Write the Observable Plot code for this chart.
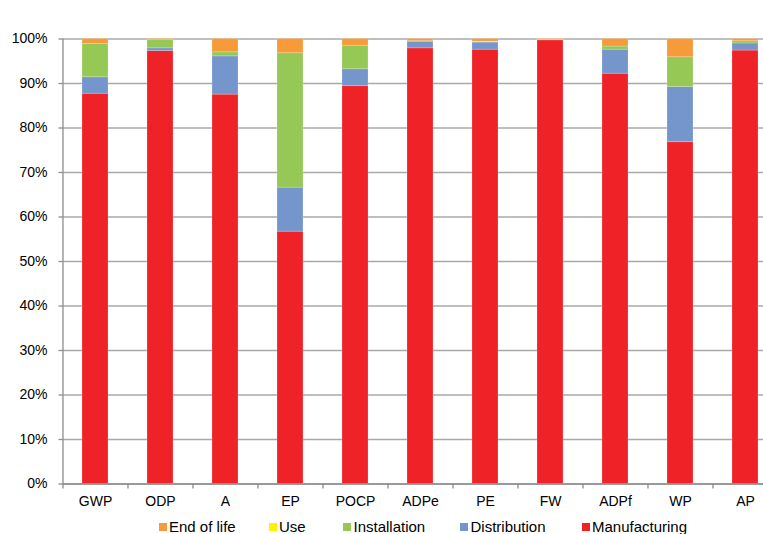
<!DOCTYPE html>
<html>
<head>
<meta charset="utf-8">
<script src="https://cdn.jsdelivr.net/npm/d3@7"></script>
<script src="https://cdn.jsdelivr.net/npm/@observablehq/plot@0.6"></script>
<style>
  html, body { margin: 0; padding: 0; background: #fff; overflow: hidden; }
  body { font-family: "Liberation Sans", Arial, sans-serif; width: 763px; height: 534px; position: relative; }
  #title { position: absolute; left: 0; top: 8px; width: 796px; text-align: center; font-weight: bold; font-size: 17.8px; color: #000; white-space: nowrap; }
  #chart { position: absolute; left: 0; top: 0; }
  #legend { position: absolute; left: 0; top: 518px; width: 763px; height: 20px; font-size: 15px; color: #000; }
  .item { position: absolute; top: 0; white-space: nowrap; }
  .sw { display: inline-block; width: 8px; height: 8px; margin-right: 2.5px; vertical-align: 1px; }
</style>
</head>
<body>
<div id="title">% Environmental Impact per Life Cycle Stage of Reference Product</div>
<div id="chart"></div>
<div id="legend"></div>
<script>
// Categories (impact indicators)
const categories = ["GWP", "ODP", "A", "EP", "POCP", "ADPe", "PE", "FW", "ADPf", "WP", "AP"];
// Life cycle stages, bottom to top of each stack
const stages = ["Manufacturing", "Distribution", "Installation", "Use", "End of life"];
const stageColors = ["#EE2227", "#7496CC", "#96C855", "#FFF100", "#F79B3A"];
// Legend order (left to right)
const legendOrder = ["End of life", "Use", "Installation", "Distribution", "Manufacturing"];

// Percentages per stage, one value per category
const manufacturing = [87.7, 97.3, 87.5, 56.7, 89.4, 97.9, 97.6, 99.7, 92.2, 76.8, 97.4];
const distribution  = [ 3.7,  0.6,  8.6,  9.9,  3.8,  1.5,  1.6, 0.05,  5.4, 12.4,  1.6];
const installation  = [ 7.5,  1.9,  0.9, 30.2,  5.3,  0.1,  0.1, 0.15,  0.7,  6.7,  0.5];
const use           = [ 0.0,  0.0,  0.0,  0.0,  0.0,  0.0,  0.1,  0.0,  0.0,  0.0,  0.0];
const endOfLife     = [ 1.1,  0.2,  3.0,  3.2,  1.5,  0.5,  0.6,  0.1,  1.7,  4.1,  0.5];

const yTicks = [0, 10, 20, 30, 40, 50, 60, 70, 80, 90, 100];

const series = {
  "Manufacturing": manufacturing,
  "Distribution": distribution,
  "Installation": installation,
  "Use": use,
  "End of life": endOfLife
};
const data = [];
stages.forEach(s => categories.forEach((c, i) => data.push({cat: c, stage: s, value: series[s][i]})));

const W = 763, H = 534;
const mL = 62.5, mR = -15, mT = 38.5, mB = 50.5;
const step = (W - mL - mR) / categories.length;
const half = step / 2;
const font = '"Liberation Sans", Arial, sans-serif';
const gray = "#8C8C8C";

const chart = Plot.plot({
  width: W,
  height: H,
  marginLeft: mL,
  marginRight: mR,
  marginTop: mT,
  marginBottom: mB,
  style: {fontFamily: font, fontSize: "14px", color: "#000", background: "#fff"},
  x: {type: "band", domain: categories, paddingInner: 0.6, paddingOuter: 0.3, label: null},
  y: {domain: [0, 100], label: null},
  color: {domain: stages, range: stageColors},
  marks: [
    Plot.gridY(yTicks, {stroke: "#A8A8A8", strokeOpacity: 1, strokeWidth: 1.3}),
    Plot.barY(data, Plot.stackY({x: "cat", y: "value", fill: "stage", order: stages,
      stroke: "#fff", strokeOpacity: 0.25, strokeWidth: 0.8})),
    // vertical y-axis line at left edge of the first band
    Plot.ruleX([categories[0]], {x: d => d, dx: -half, y1: 0, y2: 100, stroke: gray, strokeWidth: 1.3}),
    // x-axis baseline
    Plot.ruleY([0], {stroke: gray, strokeWidth: 1.3}),
    // y ticks and labels
    Plot.axisY({ticks: yTicks, tickSize: 4, tickPadding: 11.5, tickFormat: d => d + "%", fontSize: 14, label: null}),
    // x ticks (shifted to band boundaries below) and labels
    Plot.axisX({tickSize: 5, tickFormat: () => "", label: null, ariaLabel: "x-boundary"}),
    Plot.axisX({tickSize: 0, tickPadding: 12, fontSize: 14, label: null})
  ]
});
document.getElementById("chart").appendChild(chart);

// style tick strokes gray, move x ticks to band boundaries
const svg = d3.select(chart.tagName.toLowerCase() === "svg" ? chart : chart.querySelector("svg"));
svg.selectAll('[aria-label="y-axis tick"]').attr("stroke", gray).attr("stroke-width", 1.3);
svg.selectAll('[aria-label="x-axis tick"], [aria-label="x-boundary tick"]').each(function () {
  const t = this.getAttribute("transform") || "";
  this.setAttribute("transform", `translate(${-half},0) ` + t);
  this.setAttribute("stroke", gray);
  this.setAttribute("stroke-width", 1.3);
});

// Legend
const legendPos = {"End of life": 158.5, "Use": 268.5, "Installation": 343, "Distribution": 460, "Manufacturing": 581.5};
const legend = document.getElementById("legend");
legendOrder.forEach(s => {
  const item = document.createElement("span");
  item.className = "item";
  item.style.left = legendPos[s] + "px";
  const sw = document.createElement("span");
  sw.className = "sw";
  sw.style.background = stageColors[stages.indexOf(s)];
  item.appendChild(sw);
  item.appendChild(document.createTextNode(s));
  legend.appendChild(item);
});
</script>
</body>
</html>
